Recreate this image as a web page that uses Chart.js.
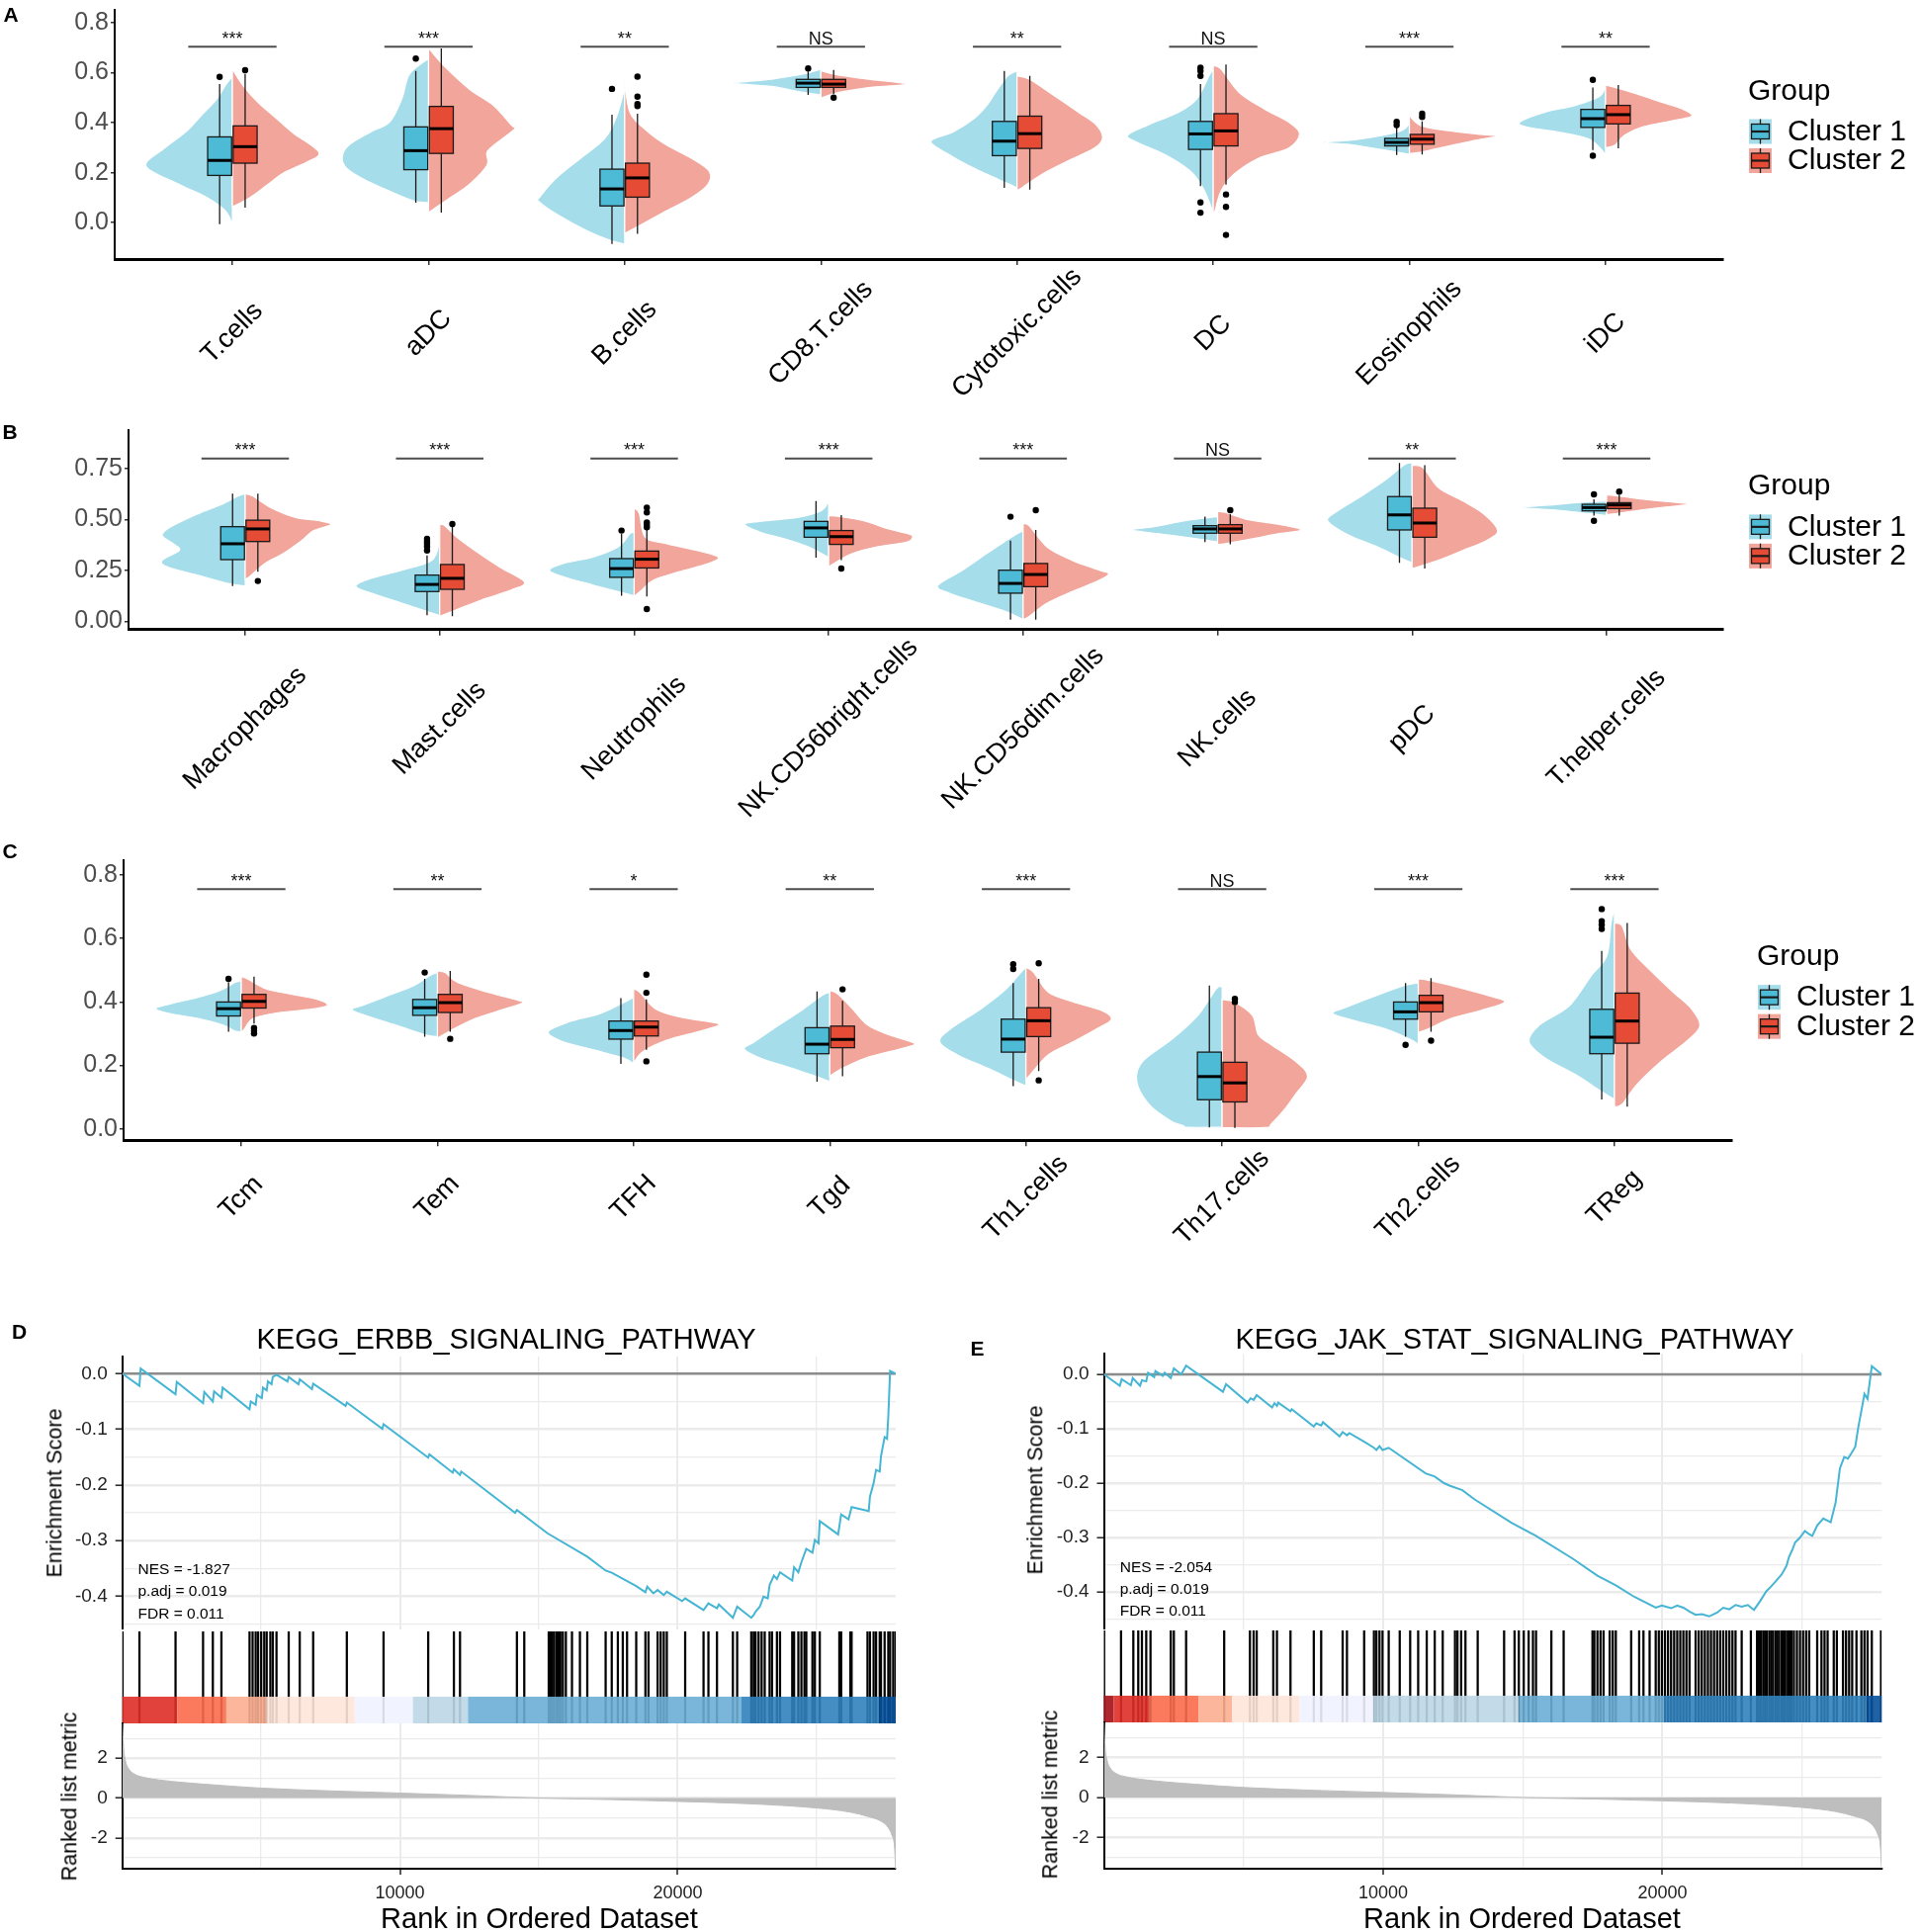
<!DOCTYPE html>
<html>
<head>
<meta charset="utf-8">
<script src="https://cdn.jsdelivr.net/npm/chart.js@4.4.1/dist/chart.umd.min.js"></script>
<style>
  html, body { margin: 0; padding: 0; background: #fff; }
  #page { position: relative; width: 1944px; height: 1954px; overflow: hidden; background: #fff; }
  canvas { position: absolute; }
</style>
</head>
<body>
<div id="page"></div>
<script>
// ---------- data: immune cell violins ----------
const catsA = ['T.cells', 'aDC', 'B.cells', 'CD8.T.cells', 'Cytotoxic.cells', 'DC', 'Eosinophils', 'iDC'];
const sigA = ['***', '***', '**', 'NS', '**', 'NS', '***', '**'];
const catsB = ['Macrophages', 'Mast.cells', 'Neutrophils', 'NK.CD56bright.cells', 'NK.CD56dim.cells', 'NK.cells', 'pDC', 'T.helper.cells'];
const sigB = ['***', '***', '***', '***', '***', 'NS', '**', '***'];
const catsC = ['Tcm', 'Tem', 'TFH', 'Tgd', 'Th1.cells', 'Th17.cells', 'Th2.cells', 'TReg'];
const sigC = ['***', '**', '*', '**', '***', 'NS', '***', '***'];
const groups = ['Cluster 1', 'Cluster 2'];

const ticksA = [0, 0.2, 0.4, 0.6, 0.8], tickLabelsA = ['0.0', '0.2', '0.4', '0.6', '0.8'];
const ticksB = [0, 0.25, 0.5, 0.75], tickLabelsB = ['0.00', '0.25', '0.50', '0.75'];
const ticksC = [0, 0.2, 0.4, 0.6, 0.8], tickLabelsC = ['0.0', '0.2', '0.4', '0.6', '0.8'];

// box stats: [whisker low, q1, median, q3, whisker high]
const boxA1 = [[-0.006, 0.189, 0.249, 0.343, 0.554], [0.08, 0.212, 0.288, 0.383, 0.607], [-0.085, 0.067, 0.135, 0.214, 0.432], [0.511, 0.541, 0.558, 0.573, 0.605],
  [0.139, 0.268, 0.326, 0.405, 0.607], [0.146, 0.293, 0.355, 0.405, 0.554], [0.271, 0.307, 0.321, 0.337, 0.383], [0.29, 0.381, 0.416, 0.453, 0.541]];
const boxA2 = [[0.06, 0.238, 0.304, 0.387, 0.595], [0.04, 0.277, 0.376, 0.465, 0.697], [-0.045, 0.102, 0.179, 0.238, 0.436], [0.515, 0.541, 0.554, 0.573, 0.611],
  [0.132, 0.297, 0.356, 0.426, 0.587], [0.152, 0.307, 0.367, 0.436, 0.633], [0.273, 0.314, 0.334, 0.353, 0.405], [0.297, 0.395, 0.432, 0.469, 0.55]];
const outA1 = [[0.583], [0.656], [0.535], [0.617], [], [0.62, 0.607, 0.587, 0.081, 0.04], [0.403, 0.39], [0.571, 0.268]];
const outA2 = [[0.61], [], [0.584, 0.504, 0.475, 0.466], [0.5], [], [0.113, 0.063, -0.049], [0.436, 0.423], []];
// violin outlines: [value, relative half width] from top to bottom
const vioA1 = [
  [[0.585, 0], [0.55, 0.08], [0.495, 0.18], [0.429, 0.36], [0.363, 0.54], [0.297, 0.79], [0.225, 1], [0.152, 0.61], [0.10, 0.29], [0.047, 0.08], [-0.006, 0]],
  [[0.656, 0], [0.594, 0.22], [0.495, 0.31], [0.403, 0.45], [0.363, 0.67], [0.311, 0.92], [0.264, 1], [0.218, 0.95], [0.172, 0.74], [0.126, 0.45], [0.087, 0.17], [0.08, 0]],
  [[0.541, 0], [0.429, 0.09], [0.337, 0.23], [0.258, 0.51], [0.179, 0.79], [0.10, 0.99], [0.086, 1], [0.034, 0.79], [-0.032, 0.44], [-0.072, 0.16], [-0.085, 0]],
  [[0.614, 0], [0.594, 0.21], [0.574, 0.57], [0.558, 1], [0.545, 0.57], [0.521, 0.21], [0.511, 0]],
  [[0.607, 0], [0.587, 0.11], [0.521, 0.25], [0.469, 0.35], [0.416, 0.5], [0.363, 0.74], [0.325, 1], [0.271, 0.78], [0.218, 0.5], [0.172, 0.21], [0.146, 0.04], [0.139, 0]],
  [[0.614, 0], [0.587, 0.05], [0.495, 0.19], [0.442, 0.4], [0.39, 0.76], [0.35, 0.99], [0.324, 0.9], [0.271, 0.55], [0.205, 0.26], [0.139, 0.12], [0.086, 0.05], [0.04, 0]],
  [[0.396, 0], [0.37, 0.08], [0.35, 0.3], [0.33, 0.66], [0.321, 1], [0.311, 0.66], [0.291, 0.3], [0.273, 0]],
  [[0.561, 0], [0.508, 0.06], [0.469, 0.35], [0.442, 0.7], [0.403, 0.99], [0.383, 0.92], [0.363, 0.56], [0.337, 0.21], [0.297, 0.06], [0.271, 0]]
];
const vioA2 = [
  [[0.614, 0], [0.55, 0.12], [0.48, 0.3], [0.42, 0.5], [0.36, 0.7], [0.30, 0.95], [0.27, 1], [0.24, 0.85], [0.20, 0.6], [0.15, 0.4], [0.10, 0.2], [0.063, 0]],
  [[0.699, 0], [0.627, 0.18], [0.535, 0.47], [0.469, 0.75], [0.39, 0.96], [0.376, 1], [0.337, 0.86], [0.284, 0.68], [0.231, 0.68], [0.152, 0.47], [0.10, 0.25], [0.04, 0]],
  [[0.58, 0], [0.442, 0.06], [0.363, 0.27], [0.311, 0.48], [0.258, 0.77], [0.205, 0.98], [0.152, 0.96], [0.10, 0.77], [0.047, 0.48], [-0.006, 0.2], [-0.043, 0]],
  [[0.607, 0], [0.59, 0.2], [0.574, 0.55], [0.554, 0.98], [0.54, 0.55], [0.52, 0.2], [0.498, 0]],
  [[0.587, 0], [0.574, 0.14], [0.508, 0.43], [0.442, 0.71], [0.39, 0.92], [0.337, 0.99], [0.297, 0.89], [0.244, 0.57], [0.192, 0.28], [0.136, 0.04], [0.132, 0]],
  [[0.627, 0], [0.614, 0.09], [0.521, 0.3], [0.455, 0.59], [0.403, 0.87], [0.356, 1], [0.297, 0.87], [0.257, 0.52], [0.191, 0.23], [0.126, 0.09], [0.047, 0.02], [0.03, 0]],
  [[0.429, 0], [0.39, 0.12], [0.37, 0.4], [0.353, 0.83], [0.346, 1], [0.324, 0.69], [0.297, 0.33], [0.281, 0.12], [0.277, 0]],
  [[0.55, 0], [0.541, 0.11], [0.515, 0.36], [0.482, 0.65], [0.455, 0.89], [0.426, 1], [0.409, 0.79], [0.383, 0.43], [0.35, 0.22], [0.31, 0.11], [0.3, 0]]
];

const boxB1 = [[0.173, 0.303, 0.381, 0.465, 0.627], [0.029, 0.146, 0.181, 0.227, 0.324], [0.125, 0.216, 0.259, 0.308, 0.429], [0.313, 0.413, 0.459, 0.491, 0.591],
  [0.008, 0.138, 0.186, 0.251, 0.397], [0.389, 0.433, 0.454, 0.47, 0.514], [0.287, 0.449, 0.523, 0.613, 0.778], [0.519, 0.543, 0.559, 0.575, 0.6]];
const boxB2 = [[0.243, 0.392, 0.454, 0.497, 0.627], [0.024, 0.157, 0.211, 0.279, 0.47], [0.122, 0.262, 0.305, 0.345, 0.454], [0.3, 0.378, 0.416, 0.446, 0.522],
  [0.008, 0.17, 0.23, 0.284, 0.449], [0.378, 0.433, 0.454, 0.475, 0.527], [0.259, 0.413, 0.483, 0.556, 0.767], [0.519, 0.554, 0.572, 0.583, 0.621]];
const outB1 = [[], [0.405, 0.392, 0.381, 0.368, 0.348], [0.446], [], [0.514], [], [], [0.624, 0.494]];
const outB2 = [[0.198], [0.478], [0.559, 0.535, 0.486, 0.475, 0.462, 0.06], [0.259], [0.546], [0.546], [], [0.637]];
const vioB1 = [
  [[0.627, 0], [0.615, 0.09], [0.575, 0.27], [0.527, 0.56], [0.462, 0.88], [0.421, 0.97], [0.381, 0.84], [0.348, 0.77], [0.3, 0.97], [0.267, 0.91], [0.227, 0.56], [0.186, 0.2], [0.173, 0]],
  [[0.4, 0], [0.3, 0.09], [0.251, 0.44], [0.211, 0.8], [0.173, 0.98], [0.138, 0.8], [0.089, 0.44], [0.04, 0.09], [0.028, 0]],
  [[0.437, 0], [0.43, 0.05], [0.365, 0.19], [0.316, 0.48], [0.284, 0.83], [0.251, 0.99], [0.219, 0.83], [0.178, 0.48], [0.138, 0.12], [0.125, 0]],
  [[0.591, 0], [0.543, 0.09], [0.51, 0.37], [0.494, 0.73], [0.478, 0.98], [0.438, 0.8], [0.405, 0.51], [0.365, 0.23], [0.313, 0]],
  [[0.446, 0], [0.413, 0.14], [0.332, 0.43], [0.251, 0.71], [0.175, 1], [0.138, 0.86], [0.097, 0.57], [0.049, 0.21], [0.008, 0]],
  [[0.514, 0], [0.51, 0.09], [0.494, 0.38], [0.465, 0.74], [0.449, 1], [0.429, 0.67], [0.41, 0.31], [0.394, 0.06], [0.39, 0]],
  [[0.778, 0], [0.77, 0.09], [0.689, 0.33], [0.608, 0.62], [0.543, 0.87], [0.502, 0.99], [0.462, 0.9], [0.413, 0.69], [0.365, 0.4], [0.316, 0.16], [0.287, 0]],
  [[0.591, 0], [0.588, 0.21], [0.575, 0.57], [0.559, 0.98], [0.546, 0.57], [0.53, 0.21], [0.519, 0]]
];
const vioB2 = [
  [[0.627, 0], [0.615, 0.09], [0.559, 0.3], [0.51, 0.59], [0.494, 0.87], [0.475, 1], [0.446, 0.8], [0.397, 0.66], [0.332, 0.44], [0.284, 0.23], [0.219, 0.05], [0.206, 0]],
  [[0.475, 0], [0.47, 0.06], [0.413, 0.2], [0.348, 0.41], [0.267, 0.7], [0.194, 0.99], [0.154, 0.84], [0.105, 0.49], [0.057, 0.2], [0.024, 0]],
  [[0.556, 0], [0.53, 0.06], [0.413, 0.13], [0.381, 0.38], [0.348, 0.73], [0.316, 0.98], [0.284, 0.87], [0.243, 0.52], [0.203, 0.23], [0.154, 0.09], [0.122, 0]],
  [[0.519, 0], [0.515, 0.13], [0.494, 0.41], [0.454, 0.7], [0.429, 0.94], [0.413, 0.98], [0.389, 0.91], [0.365, 0.55], [0.332, 0.27], [0.284, 0.06], [0.267, 0]],
  [[0.478, 0], [0.47, 0.07], [0.365, 0.28], [0.3, 0.57], [0.251, 0.89], [0.232, 1], [0.194, 0.85], [0.146, 0.57], [0.089, 0.28], [0.024, 0.07], [0.008, 0]],
  [[0.54, 0], [0.535, 0.09], [0.502, 0.33], [0.478, 0.69], [0.449, 0.97], [0.429, 0.69], [0.405, 0.4], [0.381, 0.09], [0.378, 0]],
  [[0.767, 0], [0.755, 0.13], [0.656, 0.31], [0.592, 0.59], [0.527, 0.84], [0.446, 1], [0.397, 0.87], [0.348, 0.59], [0.3, 0.31], [0.259, 0]],
  [[0.621, 0], [0.616, 0.14], [0.6, 0.43], [0.585, 0.78], [0.575, 0.96], [0.559, 0.64], [0.54, 0.28], [0.527, 0.07], [0.525, 0]]
];

const boxC1 = [[0.306, 0.356, 0.379, 0.4, 0.462], [0.291, 0.358, 0.382, 0.408, 0.473], [0.205, 0.283, 0.31, 0.34, 0.412], [0.149, 0.237, 0.267, 0.319, 0.433],
  [0.135, 0.242, 0.283, 0.346, 0.46], [0.005, 0.092, 0.165, 0.242, 0.452], [0.291, 0.346, 0.369, 0.4, 0.46], [0.093, 0.237, 0.289, 0.377, 0.561]];
const boxC2 = [[0.332, 0.381, 0.402, 0.424, 0.48], [0.306, 0.367, 0.398, 0.424, 0.498], [0.249, 0.293, 0.321, 0.34, 0.408], [0.166, 0.256, 0.282, 0.324, 0.404],
  [0.182, 0.291, 0.341, 0.382, 0.473], [0.003, 0.085, 0.145, 0.21, 0.39], [0.306, 0.369, 0.398, 0.421, 0.475], [0.07, 0.27, 0.34, 0.428, 0.649]];
const outC1 = [[0.473], [0.493], [], [], [0.519, 0.504], [], [0.265], [0.693, 0.655, 0.644, 0.63]];
const outC2 = [[0.318, 0.309, 0.301], [0.284], [0.486, 0.429, 0.213], [0.44], [0.522, 0.153], [0.41, 0.4], [0.278], []];
const vioC1 = [
  [[0.467, 0], [0.462, 0.07], [0.436, 0.25], [0.415, 0.5], [0.394, 0.82], [0.379, 0.99], [0.363, 0.82], [0.348, 0.5], [0.327, 0.21], [0.308, 0.07], [0.306, 0]],
  [[0.493, 0], [0.483, 0.09], [0.452, 0.27], [0.415, 0.62], [0.389, 0.87], [0.376, 0.99], [0.358, 0.84], [0.327, 0.48], [0.296, 0.13], [0.291, 0]],
  [[0.415, 0], [0.399, 0.11], [0.363, 0.39], [0.338, 0.74], [0.306, 0.99], [0.275, 0.82], [0.249, 0.46], [0.223, 0.11], [0.205, 0]],
  [[0.431, 0], [0.421, 0.09], [0.379, 0.3], [0.327, 0.59], [0.275, 0.87], [0.252, 0.99], [0.223, 0.8], [0.192, 0.45], [0.166, 0.16], [0.149, 0]],
  [[0.509, 0], [0.493, 0.06], [0.441, 0.23], [0.379, 0.52], [0.316, 0.87], [0.275, 1], [0.234, 0.8], [0.192, 0.45], [0.151, 0.13], [0.135, 0]],
  [[0.447, 0], [0.441, 0.07], [0.358, 0.28], [0.285, 0.57], [0.213, 0.92], [0.151, 0.99], [0.078, 0.85], [0.026, 0.6], [0.01, 0.45], [0.005, 0.4], [0.005, 0]],
  [[0.46, 0], [0.452, 0.16], [0.421, 0.48], [0.384, 0.83], [0.364, 0.99], [0.343, 0.76], [0.317, 0.4], [0.286, 0.12], [0.267, 0]],
  [[0.691, 0], [0.649, 0.04], [0.545, 0.09], [0.483, 0.27], [0.389, 0.52], [0.327, 0.87], [0.275, 0.99], [0.223, 0.8], [0.171, 0.45], [0.119, 0.16], [0.093, 0]]
];
const vioC2 = [
  [[0.48, 0], [0.473, 0.07], [0.441, 0.29], [0.425, 0.57], [0.41, 0.86], [0.391, 1], [0.379, 0.86], [0.366, 0.43], [0.348, 0.14], [0.316, 0.04], [0.304, 0]],
  [[0.498, 0], [0.493, 0.09], [0.462, 0.23], [0.431, 0.58], [0.41, 0.87], [0.398, 0.99], [0.379, 0.79], [0.348, 0.44], [0.311, 0.16], [0.286, 0]],
  [[0.441, 0], [0.431, 0.07], [0.379, 0.25], [0.353, 0.53], [0.337, 0.89], [0.327, 0.99], [0.306, 0.74], [0.28, 0.39], [0.244, 0.11], [0.208, 0]],
  [[0.436, 0], [0.426, 0.09], [0.379, 0.26], [0.327, 0.44], [0.296, 0.69], [0.27, 0.98], [0.254, 0.84], [0.223, 0.41], [0.187, 0.12], [0.166, 0]],
  [[0.509, 0], [0.493, 0.09], [0.431, 0.26], [0.4, 0.55], [0.374, 0.87], [0.346, 0.99], [0.317, 0.83], [0.275, 0.55], [0.234, 0.26], [0.171, 0.05], [0.156, 0]],
  [[0.408, 0], [0.4, 0.14], [0.358, 0.35], [0.296, 0.42], [0.265, 0.57], [0.213, 0.85], [0.166, 0.99], [0.109, 0.85], [0.057, 0.71], [0.016, 0.57], [0.004, 0.5], [0.004, 0]],
  [[0.473, 0], [0.468, 0.13], [0.447, 0.45], [0.421, 0.8], [0.4, 1], [0.374, 0.73], [0.348, 0.38], [0.317, 0.13], [0.304, 0]],
  [[0.649, 0], [0.639, 0.09], [0.566, 0.19], [0.504, 0.4], [0.431, 0.68], [0.379, 0.89], [0.325, 0.99], [0.275, 0.83], [0.213, 0.54], [0.14, 0.26], [0.078, 0.09], [0.07, 0]]
];

// ---------- data: GSEA ----------
const N_GENES = 27850;
const rankTicks = [5000, 10000, 15000, 20000, 25000], rankTickLabels = ['', '10000', '', '20000', ''];
const esTicks = [0, -0.05, -0.1, -0.15, -0.2, -0.25, -0.3, -0.35, -0.4, -0.45];
const esTickLabels = ['0.0', '', '-0.1', '', '-0.2', '', '-0.3', '', '-0.4', ''];
const metricTicks = [3, 2, 1, 0, -1, -2, -3], metricTickLabels = ['', '2', '', '0', '', '-2', ''];
const statsD = ['NES = -1.827', 'p.adj = 0.019', 'FDR = 0.011'];
const statsE = ['NES = -2.054', 'p.adj = 0.019', 'FDR = 0.011'];

const esD = [[0, 0], [617, -0.022], [661, 0.009], [1917, -0.037], [1961, -0.015], [2908, -0.053], [2952, -0.033], [3260, -0.05], [3305, -0.032], [3569, -0.043], [3613, -0.025],
  [4582, -0.064], [4626, -0.05], [4803, -0.056], [4847, -0.038], [5023, -0.044], [5067, -0.025], [5199, -0.03], [5243, -0.014], [5375, -0.019], [5419, -0.006], [5552, -0.002],
  [5948, -0.014], [5992, -0.006], [6345, -0.019], [6389, -0.01], [6829, -0.028], [6873, -0.018], [8041, -0.058], [8085, -0.052], [9363, -0.099], [9407, -0.091],
  [11015, -0.151], [11059, -0.145], [11896, -0.178], [11940, -0.172], [12160, -0.182], [12204, -0.176], [14143, -0.25], [14209, -0.245], [15311, -0.287],
  [16743, -0.329], [17404, -0.354], [17624, -0.358], [18505, -0.382], [18836, -0.393], [18902, -0.383], [19122, -0.395], [19276, -0.389],
  [19496, -0.398], [19607, -0.392], [20157, -0.409], [20267, -0.404], [20929, -0.425], [21105, -0.413], [21413, -0.422], [21479, -0.415], [21986, -0.439], [22140, -0.419],
  [22647, -0.439], [22735, -0.434], [22801, -0.428], [22955, -0.419], [23088, -0.401], [23242, -0.404], [23308, -0.38], [23462, -0.363], [23572, -0.369], [23683, -0.357],
  [24123, -0.372], [24189, -0.348], [24343, -0.357], [24453, -0.339], [24629, -0.315], [24850, -0.322], [24938, -0.299], [25070, -0.305], [25114, -0.265], [25775, -0.289],
  [25885, -0.253], [26150, -0.262], [26260, -0.24], [26877, -0.247], [26921, -0.221], [27053, -0.197], [27141, -0.173], [27273, -0.176], [27317, -0.149], [27449, -0.114],
  [27537, -0.117], [27581, -0.078], [27647, 0.005], [27850, 0]];
const esE = [[0, 0], [571, -0.021], [637, -0.009], [967, -0.02], [1033, -0.007], [1297, -0.021], [1363, -0.011], [1517, -0.013], [1583, 0.003], [1802, -0.005], [1846, 0.006],
  [2110, -0.003], [2176, 0.003], [2396, -0.007], [2506, 0.011], [2770, 0], [2945, 0.016], [4264, -0.032], [4374, -0.018], [5143, -0.052], [5253, -0.044], [5363, -0.047],
  [5473, -0.038], [6022, -0.061], [6110, -0.053], [6198, -0.058], [6242, -0.052], [6682, -0.068], [6726, -0.064], [7517, -0.096], [7605, -0.09], [7781, -0.094], [7847, -0.088],
  [8440, -0.114], [8550, -0.106], [8704, -0.112], [8792, -0.108], [9320, -0.124], [9671, -0.135], [9759, -0.139], [9869, -0.132], [9979, -0.139], [10199, -0.135],
  [11518, -0.182], [11848, -0.188], [12177, -0.2], [12397, -0.205], [12837, -0.213], [13276, -0.23], [14595, -0.273], [15474, -0.297], [16793, -0.339], [17672, -0.37],
  [18331, -0.388], [18991, -0.409], [19760, -0.429], [19980, -0.425], [20310, -0.43], [20530, -0.425], [20749, -0.429], [20969, -0.436], [21189, -0.442], [21409, -0.441],
  [21673, -0.445], [21958, -0.438], [22178, -0.429], [22398, -0.432], [22618, -0.424], [22838, -0.427], [23058, -0.424], [23278, -0.433], [23498, -0.417], [23717, -0.399],
  [23871, -0.391], [24047, -0.381], [24267, -0.368], [24443, -0.352], [24531, -0.336], [24663, -0.321], [24751, -0.309], [24926, -0.3], [25102, -0.288], [25256, -0.294],
  [25366, -0.297], [25542, -0.278], [25761, -0.265], [26025, -0.272], [26201, -0.236], [26355, -0.173], [26509, -0.152], [26641, -0.155], [26729, -0.148], [26905, -0.133],
  [27014, -0.097], [27124, -0.067], [27234, -0.036], [27344, -0.045], [27497, 0.015], [27850, 0]];

const hitsD = [10, 617, 1917, 2908, 3260, 3569, 4582, 4692, 4803, 4891, 5001, 5111, 5199, 5331, 5419, 5552, 5992, 6389, 6873, 8085, 9407, 11015, 11940, 12160,
  14209, 14474, 15355, 15421, 15487, 15553, 15641, 15707, 15773, 15862, 15972, 16192, 16478, 16743, 17404, 17624, 17844, 18021, 18175, 18505, 18836, 18946,
  19276, 19386, 19497, 19607, 20268, 20929, 21105, 21413, 21986, 22140, 22647, 22735, 22801, 22911, 23021, 23132, 23308, 23396, 23572, 23683, 24123, 24189,
  24343, 24453, 24563, 24629, 24850, 24938, 25114, 25819, 25885, 26216, 26260, 26833, 26921, 27053, 27141, 27273, 27317, 27449, 27581, 27647, 27758, 27840];
const hitsE = [10, 615, 1055, 1231, 1363, 1517, 1670, 2396, 2506, 2945, 4308, 5231, 5363, 5473, 6066, 6198, 6682, 7517, 7781, 8550, 8704, 9320, 9671, 9759,
  9869, 9979, 10199, 10594, 10968, 11254, 11561, 11847, 12133, 12573, 12661, 12793, 12947, 13386, 14331, 14705, 14858, 15034, 15210, 15364, 15474, 16023,
  16463, 17496, 17562, 17672, 17782, 17891, 18111, 18221, 18331, 18881, 19167, 19321, 19541, 19760, 19870, 19980, 20090, 20200, 20310, 20420, 20530, 20639,
  20749, 20859, 20969, 21189, 21299, 21409, 21519, 21629, 21738, 21848, 21958, 22068, 22178, 22288, 22398, 22508, 22618, 22838, 23167, 23387, 23453, 23519,
  23607, 23673, 23739, 23827, 23893, 23959, 24047, 24113, 24179, 24267, 24333, 24399, 24487, 24553, 24619, 24707, 24816, 24926, 25036, 25146, 25256, 25542,
  25695, 25805, 25915, 26135, 26245, 26465, 26575, 26685, 26794, 26948, 27124, 27234, 27344, 27497, 27827];

// colour bar breaks along the ranked list
const cbBreaksD = [0, 1983, 3745, 5177, 8371, 10464, 12447, 22294, 27251, 27850];
const cbBreaksE = [0, 352, 1627, 3385, 4594, 7012, 9649, 14858, 20045, 27299, 27850];
// ranked list metric (same gene list for both panels)
const rankMetric = [[0, 3.9], [44, 2.56], [110, 1.9], [220, 1.49], [440, 1.2], [771, 1.04], [1322, 0.91], [2203, 0.78], [3305, 0.66], [5000, 0.5], [7490, 0.36],
  [10000, 0.25], [12557, 0.13], [15000, 0], [17624, -0.08], [20003, -0.17], [22470, -0.28], [25000, -0.5], [26216, -0.71], [26877, -0.94], [27317, -1.16],
  [27582, -1.49], [27714, -1.87], [27802, -2.4], [27850, -3.6]];

// ---------- styles ----------
const FONT = '"Liberation Sans", Arial, Helvetica, sans-serif';
const VIO_FILL = ['rgba(77,187,213,0.5)', 'rgba(230,75,53,0.5)'];
const BOX_FILL = ['#4DBBD5', '#E64B35'];
const HALF_W = 0.44, BOX_W = 0.122, BOX_GAP = 0.004, SIG_HALF = 0.225;
const ES_COLOR = '#45B5D3';
const CB_COLORS_D = ['#DE2D26', '#FB6A4A', '#FCAE91', '#FEE5D9', '#EFF3FF', '#BDD7E7', '#6BAED6', '#3182BD', '#08519C'];
const CB_COLORS_E = ['#A50F15', '#DE2D26', '#FB6A4A', '#FCAE91', '#FEE5D9', '#EFF3FF', '#BDD7E7', '#6BAED6', '#3182BD', '#08519C'];
const CB_TOP = 0.29;

Chart.defaults.font.family = FONT;
Chart.defaults.animation = false;

const page = document.getElementById('page');

function mkCanvas(b) {
  const c = document.createElement('canvas');
  c.width = b.w; c.height = b.h;
  c.style.left = b.x + 'px'; c.style.top = b.y + 'px';
  c.style.width = b.w + 'px'; c.style.height = b.h + 'px';
  page.appendChild(c);
  return c;
}

function frame(b, a) {
  return { padT: a.t - b.y, padR: b.x + b.w - a.r, yW: a.l - b.x, xH: b.y + b.h - a.b };
}

function text(txt, x, y, o) {
  const d = document.createElement('div');
  d.textContent = txt;
  d.style.cssText = 'position:absolute;white-space:nowrap;line-height:1;z-index:2;left:' + x + 'px;top:' + y + 'px;' +
    'font-family:' + FONT.replace(/"/g, "'") + ';font-size:' + o.size + 'px;font-weight:' + (o.bold ? 700 : 400) + ';color:' + (o.color || '#000') + ';' +
    'transform:translate(' + (o.left ? '0' : '-50%') + ',-50%) rotate(' + (o.rot || 0) + 'deg);';
  page.appendChild(d);
}

// smooth path through points (Catmull-Rom)
function smooth(ctx, pts) {
  ctx.moveTo(pts[0][0], pts[0][1]);
  for (let i = 0; i < pts.length - 1; i++) {
    const p0 = pts[i - 1] || pts[i], p1 = pts[i], p2 = pts[i + 1], p3 = pts[i + 2] || p2;
    ctx.bezierCurveTo(p1[0] + (p2[0] - p0[0]) / 6, p1[1] + (p2[1] - p0[1]) / 6,
      p2[0] - (p3[0] - p1[0]) / 6, p2[1] - (p3[1] - p1[1]) / 6, p2[0], p2[1]);
  }
}

function drawHalf(ctx, x, y, cx, prof, side, fill) {
  const pts = prof.map(([v, w]) => [x.getPixelForValue(cx + side * w * HALF_W), y.getPixelForValue(v)]);
  const xc = x.getPixelForValue(cx);
  ctx.beginPath();
  smooth(ctx, pts);
  ctx.lineTo(xc, pts[pts.length - 1][1]);
  ctx.lineTo(xc, pts[0][1]);
  ctx.closePath();
  ctx.fillStyle = fill;
  ctx.fill();
  ctx.strokeStyle = '#fff';
  ctx.lineWidth = 1.2;
  ctx.stroke();
}

function drawBox(ctx, x, y, cx, b, side, fill) {
  const [lo, q1, md, q3, hi] = b;
  const xa = x.getPixelForValue(cx + (side < 0 ? -BOX_W - BOX_GAP : BOX_GAP));
  const xb = x.getPixelForValue(cx + (side < 0 ? -BOX_GAP : BOX_W + BOX_GAP));
  const xm = (xa + xb) / 2;
  const yt = y.getPixelForValue(q3), yb = y.getPixelForValue(q1), ym = y.getPixelForValue(md);
  ctx.strokeStyle = '#1a1a1a';
  ctx.lineWidth = 1.3;
  ctx.beginPath();
  ctx.moveTo(xm, y.getPixelForValue(hi)); ctx.lineTo(xm, yt);
  ctx.moveTo(xm, yb); ctx.lineTo(xm, y.getPixelForValue(lo));
  ctx.stroke();
  ctx.fillStyle = fill;
  ctx.fillRect(xa, yt, xb - xa, yb - yt);
  ctx.strokeRect(xa, yt, xb - xa, yb - yt);
  ctx.strokeStyle = '#000';
  ctx.lineWidth = 3;
  ctx.beginPath(); ctx.moveTo(xa, ym); ctx.lineTo(xb, ym); ctx.stroke();
}

function violinPlugin(P) {
  return {
    id: 'splitViolin' + P.name,
    beforeDatasetsDraw(chart) {
      const { ctx, scales: { x, y } } = chart;
      ctx.save();
      P.cats.forEach((c, i) => {
        drawHalf(ctx, x, y, i + 1, P.vio1[i], -1, VIO_FILL[0]);
        drawHalf(ctx, x, y, i + 1, P.vio2[i], 1, VIO_FILL[1]);
      });
      P.cats.forEach((c, i) => {
        drawBox(ctx, x, y, i + 1, P.box1[i], -1, BOX_FILL[0]);
        drawBox(ctx, x, y, i + 1, P.box2[i], 1, BOX_FILL[1]);
      });
      ctx.restore();
    },
    afterDraw(chart) {
      const { ctx, chartArea: a, scales: { x, y } } = chart;
      ctx.save();
      // significance brackets
      const ys = y.getPixelForValue(P.sigY);
      P.cats.forEach((c, i) => {
        ctx.strokeStyle = '#4D4D4D';
        ctx.lineWidth = 2;
        ctx.beginPath();
        ctx.moveTo(x.getPixelForValue(i + 1 - SIG_HALF), ys);
        ctx.lineTo(x.getPixelForValue(i + 1 + SIG_HALF), ys);
        ctx.stroke();
        ctx.fillStyle = '#111';
        ctx.font = '18px ' + FONT;
        ctx.textAlign = 'center';
        ctx.textBaseline = 'alphabetic';
        ctx.fillText(P.sig[i], x.getPixelForValue(i + 1), ys - 2.5);
      });
      // rotated category labels
      ctx.font = '27px ' + FONT;
      ctx.fillStyle = '#000';
      P.cats.forEach((c, i) => {
        ctx.save();
        ctx.translate(x.getPixelForValue(i + 1), a.bottom + P.labelDy);
        ctx.rotate(-Math.PI / 4);
        ctx.textAlign = 'center';
        ctx.textBaseline = 'middle';
        ctx.fillText(c, 0, 0);
        ctx.restore();
      });
      // legend
      const lx = a.right + 26;
      const top = (a.top + a.bottom) / 2 - 9 - 46.5;
      ctx.textAlign = 'left';
      ctx.textBaseline = 'alphabetic';
      ctx.font = '30px ' + FONT;
      ctx.fillText('Group', lx - 1, top + 20);
      groups.forEach((g, k) => {
        const kt = top + 40 + k * 29.5;
        ctx.fillStyle = VIO_FILL[k];
        ctx.fillRect(lx, kt, 23, 25);
        ctx.strokeStyle = '#1a1a1a';
        ctx.lineWidth = 1.3;
        ctx.beginPath();
        ctx.moveTo(lx + 11.5, kt); ctx.lineTo(lx + 11.5, kt + 5);
        ctx.moveTo(lx + 11.5, kt + 20); ctx.lineTo(lx + 11.5, kt + 25);
        ctx.stroke();
        ctx.fillStyle = BOX_FILL[k];
        ctx.fillRect(lx + 2.5, kt + 5, 18, 15);
        ctx.strokeRect(lx + 2.5, kt + 5, 18, 15);
        ctx.lineWidth = 2.2;
        ctx.beginPath(); ctx.moveTo(lx + 2.5, kt + 12.5); ctx.lineTo(lx + 20.5, kt + 12.5); ctx.stroke();
        ctx.fillStyle = '#000';
        ctx.textBaseline = 'middle';
        ctx.fillText(g, lx + 39, kt + 13);
      });
      ctx.restore();
    }
  };
}

function violinPanel(P) {
  const f = frame(P.box, P.area);
  const whiskX = BOX_GAP + BOX_W / 2;
  const pts = (outs, side) => outs.flatMap((arr, i) => arr.map(v => ({ x: i + 1 + side * whiskX, y: v })));
  new Chart(mkCanvas(P.box), {
    type: 'scatter',
    data: {
      datasets: [
        { label: groups[0], data: pts(P.out1, -1), pointRadius: 3.2, pointBackgroundColor: '#000', pointBorderWidth: 0 },
        { label: groups[1], data: pts(P.out2, 1), pointRadius: 3.2, pointBackgroundColor: '#000', pointBorderWidth: 0 }
      ]
    },
    options: {
      responsive: false, devicePixelRatio: 1, animation: false,
      layout: { padding: { left: 0, right: f.padR, top: f.padT, bottom: 0 } },
      plugins: { legend: { display: false }, tooltip: { enabled: false } },
      scales: {
        x: {
          type: 'linear', min: 0.4, max: P.cats.length + 0.6,
          afterBuildTicks: s => { s.ticks = P.cats.map((c, i) => ({ value: i + 1 })); },
          afterFit: s => { s.height = f.xH; s.paddingLeft = 0; s.paddingRight = 0; },
          ticks: { display: false },
          grid: { drawOnChartArea: false, drawTicks: true, tickLength: 6, color: '#333', lineWidth: 1.5 },
          border: { display: true, color: '#000', width: 3 }
        },
        y: {
          min: P.yMin, max: P.yMax,
          afterBuildTicks: s => { s.ticks = P.yTicks.map(v => ({ value: v })); },
          afterFit: s => { s.width = f.yW; s.paddingTop = 0; s.paddingBottom = 0; },
          ticks: { font: { size: 25 }, color: '#4D4D4D', padding: 2, autoSkip: false, callback: (v, i) => P.yLabels[i] },
          grid: { drawOnChartArea: false, drawTicks: true, tickLength: 4, color: '#333', lineWidth: 1.5 },
          border: { display: true, color: '#000', width: 2 }
        }
      }
    },
    plugins: [violinPlugin(P)]
  });
}

function gridWidth(labels, maj, min) {
  return c => (labels[c.index] ? maj : min);
}

function gseaPanel(G) {
  // running enrichment score
  const f = frame(G.esBox, G.esArea);
  new Chart(mkCanvas(G.esBox), {
    type: 'line',
    data: {
      datasets: [
        { data: G.es.map(([r, v]) => ({ x: r, y: v })), borderColor: ES_COLOR, borderWidth: 2, pointRadius: 0, tension: 0, order: 0 },
        { data: [{ x: 0, y: 0 }, { x: N_GENES, y: 0 }], borderColor: '#8C8C8C', borderWidth: 2.5, pointRadius: 0, order: 1 }
      ]
    },
    options: {
      responsive: false, devicePixelRatio: 1, animation: false,
      layout: { padding: { left: 0, right: f.padR, top: f.padT, bottom: 0 } },
      plugins: { legend: { display: false }, tooltip: { enabled: false } },
      scales: {
        x: {
          type: 'linear', min: 0, max: N_GENES,
          afterBuildTicks: s => { s.ticks = rankTicks.map(v => ({ value: v })); },
          afterFit: s => { s.height = f.xH; s.paddingLeft = 0; s.paddingRight = 0; },
          ticks: { display: false },
          grid: { color: '#EBEBEB', lineWidth: gridWidth(rankTickLabels, 2, 1.3), drawTicks: false },
          border: { display: false }
        },
        y: {
          min: G.esMin, max: G.esMax,
          afterBuildTicks: s => { s.ticks = esTicks.map(v => ({ value: v })); },
          afterFit: s => { s.width = f.yW; s.paddingTop = 0; s.paddingBottom = 0; },
          ticks: { font: { size: 19 }, color: '#222', padding: 8, autoSkip: false, callback: (v, i) => esTickLabels[i] },
          grid: {
            color: '#EBEBEB', lineWidth: gridWidth(esTickLabels, 2.4, 1.2), tickLength: 7,
            tickColor: c => (esTickLabels[c.index] ? '#222' : 'rgba(0,0,0,0)'), tickWidth: 1.5
          },
          border: { display: true, color: '#000', width: 2 }
        }
      }
    }
  });

  // hit positions and colour bar
  const h = G.hitArea, hb = G.hitBox;
  new Chart(mkCanvas(hb), {
    type: 'bar',
    data: { datasets: [{ data: G.hits.map(r => ({ x: r, y: 1 })), backgroundColor: '#000', barThickness: 1.6, grouped: false }] },
    options: {
      responsive: false, devicePixelRatio: 1, animation: false,
      layout: { padding: { left: h.l - hb.x, right: hb.x + hb.w - h.r, top: h.t - hb.y, bottom: hb.y + hb.h - h.b } },
      plugins: { legend: { display: false }, tooltip: { enabled: false } },
      scales: {
        x: { type: 'linear', display: false, min: 0, max: N_GENES, offset: false },
        y: { display: false, min: 0, max: 1 }
      }
    },
    plugins: [{
      id: 'colorBar' + G.name,
      afterDatasetsDraw(chart) {
        const { ctx, scales: { x, y } } = chart;
        ctx.save();
        ctx.globalAlpha = 0.9;
        const y0 = y.getPixelForValue(CB_TOP), y1 = y.getPixelForValue(0);
        for (let i = 0; i < G.cbBreaks.length - 1; i++) {
          const x0 = x.getPixelForValue(G.cbBreaks[i]), x1 = x.getPixelForValue(G.cbBreaks[i + 1]);
          ctx.fillStyle = G.cbColors[i];
          ctx.fillRect(x0, y0, x1 - x0, y1 - y0);
        }
        ctx.restore();
      }
    }]
  });

  // ranked list metric
  const g = frame(G.rkBox, G.rkArea);
  new Chart(mkCanvas(G.rkBox), {
    type: 'line',
    data: {
      datasets: [{
        data: rankMetric.map(([r, v]) => ({ x: r, y: v })), fill: 'origin', backgroundColor: '#BEBEBE',
        borderColor: '#BEBEBE', borderWidth: 1, pointRadius: 0, cubicInterpolationMode: 'monotone'
      }]
    },
    options: {
      responsive: false, devicePixelRatio: 1, animation: false,
      layout: { padding: { left: 0, right: g.padR, top: g.padT, bottom: 0 } },
      plugins: { legend: { display: false }, tooltip: { enabled: false } },
      scales: {
        x: {
          type: 'linear', min: 0, max: N_GENES,
          afterBuildTicks: s => { s.ticks = rankTicks.map(v => ({ value: v })); },
          afterFit: s => { s.height = g.xH; s.paddingLeft = 0; s.paddingRight = 0; },
          ticks: { font: { size: 18 }, color: '#222', padding: 8.5, autoSkip: false, maxRotation: 0, callback: (v, i) => rankTickLabels[i] },
          grid: {
            color: '#EBEBEB', lineWidth: gridWidth(rankTickLabels, 2, 1.3), tickLength: 6,
            tickColor: c => (rankTickLabels[c.index] ? '#222' : 'rgba(0,0,0,0)'), tickWidth: 1.5
          },
          border: { display: true, color: '#000', width: 2 }
        },
        y: {
          min: G.rkMin, max: G.rkMax,
          afterBuildTicks: s => { s.ticks = metricTicks.map(v => ({ value: v })); },
          afterFit: s => { s.width = g.yW; s.paddingTop = 0; s.paddingBottom = 0; },
          ticks: { font: { size: 19 }, color: '#222', padding: 8, autoSkip: false, callback: (v, i) => metricTickLabels[i] },
          grid: {
            color: '#EBEBEB', lineWidth: gridWidth(metricTickLabels, 2.4, 1.2), tickLength: 7,
            tickColor: c => (metricTickLabels[c.index] ? '#222' : 'rgba(0,0,0,0)'), tickWidth: 1.5
          },
          border: { display: true, color: '#000', width: 2 }
        }
      }
    }
  });

  // texts
  text(G.title, G.titleX, 1354, { size: 29 });
  text('Enrichment Score', G.esTitleX, G.esTitleY, { size: 21.5, rot: -90 });
  text('Ranked list metric', G.rkTitleX, G.rkTitleY, { size: 21.5, rot: -90 });
  text('Rank in Ordered Dataset', G.xTitleX, 1940, { size: 29 });
  G.stats.forEach((s, i) => text(s, G.statsX, G.statsY[i], { size: 15.5, left: true }));
}

// ---------- panels ----------
violinPanel({
  name: 'A', cats: catsA, sig: sigA, sigY: 0.704, box1: boxA1, box2: boxA2, out1: outA1, out2: outA2, vio1: vioA1, vio2: vioA2,
  yTicks: ticksA, yLabels: tickLabelsA, yMin: -0.1455, yMax: 0.851,
  box: { x: 0, y: 0, w: 1944, h: 420 }, area: { l: 116, r: 1743, t: 10, b: 262 }, labelDy: 75
});
violinPanel({
  name: 'B', cats: catsB, sig: sigB, sigY: 0.80, box1: boxB1, box2: boxB2, out1: outB1, out2: outB2, vio1: vioB1, vio2: vioB2,
  yTicks: ticksB, yLabels: tickLabelsB, yMin: -0.0408, yMax: 0.94,
  box: { x: 0, y: 420, w: 1944, h: 420 }, area: { l: 130, r: 1743, t: 435, b: 636.7 }, labelDy: 100
});
violinPanel({
  name: 'C', cats: catsC, sig: sigC, sigY: 0.756, box1: boxC1, box2: boxC2, out1: outC1, out2: outC2, vio1: vioC1, vio2: vioC2,
  yTicks: ticksC, yLabels: tickLabelsC, yMin: -0.036, yMax: 0.847,
  box: { x: 0, y: 840, w: 1944, h: 440 }, area: { l: 125, r: 1752, t: 870, b: 1153.3 }, labelDy: 58
});

gseaPanel({
  name: 'D', title: 'KEGG_ERBB_SIGNALING_PATHWAY', titleX: 512, es: esD, hits: hitsD, cbBreaks: cbBreaksD, cbColors: CB_COLORS_D, stats: statsD,
  esBox: { x: 0, y: 1360, w: 930, h: 288 }, esArea: { l: 123.7, r: 906, t: 1371.7, b: 1648 }, esMin: -0.4599, esMax: 0.0313,
  hitBox: { x: 0, y: 1648, w: 930, h: 96 }, hitArea: { l: 123.7, r: 906, t: 1650, b: 1743 },
  rkBox: { x: 0, y: 1740, w: 930, h: 214 }, rkArea: { l: 123.7, r: 906, t: 1743, b: 1890 }, rkMin: -3.55, rkMax: 3.75,
  esTitleX: 55.7, esTitleY: 1510, rkTitleX: 71, rkTitleY: 1817, xTitleX: 545.5, statsX: 139.5, statsY: [1586.7, 1609, 1631.7]
});
gseaPanel({
  name: 'E', title: 'KEGG_JAK_STAT_SIGNALING_PATHWAY', titleX: 1532, es: esE, hits: hitsE, cbBreaks: cbBreaksE, cbColors: CB_COLORS_E, stats: statsE,
  esBox: { x: 990, y: 1360, w: 930, h: 288 }, esArea: { l: 1116.5, r: 1903.2, t: 1369.3, b: 1648 }, esMin: -0.469, esMax: 0.0376,
  hitBox: { x: 990, y: 1647, w: 930, h: 96 }, hitArea: { l: 1116.5, r: 1903.2, t: 1649, b: 1742 },
  rkBox: { x: 990, y: 1739, w: 930, h: 215 }, rkArea: { l: 1116.5, r: 1903.2, t: 1742, b: 1890 }, rkMin: -3.57, rkMax: 3.76,
  esTitleX: 1047.6, esTitleY: 1507, rkTitleX: 1063, rkTitleY: 1815, xTitleX: 1539.5, statsX: 1132.7, statsY: [1585, 1607.3, 1629.3]
});

// panel letters
text('A', 11, 13.5, { size: 21, bold: true });
text('B', 10, 435.5, { size: 21, bold: true });
text('C', 10, 860, { size: 21, bold: true });
text('D', 19.5, 1345.5, { size: 21, bold: true });
text('E', 988.5, 1363, { size: 21, bold: true });
</script>
</body>
</html>
